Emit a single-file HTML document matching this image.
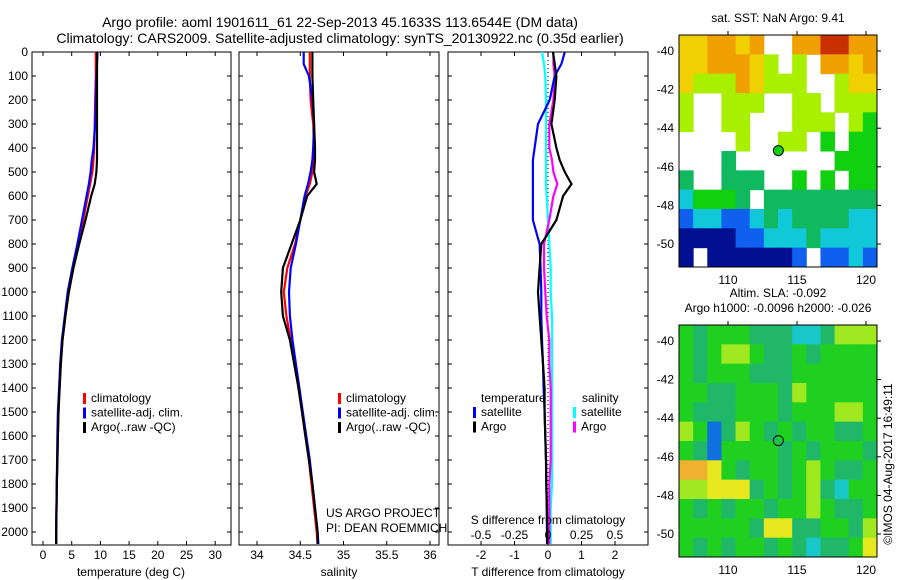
<!DOCTYPE html>
<html><head><meta charset="utf-8"><style>
body{margin:0;background:#fff;}
svg{display:block;font-family:"Liberation Sans",sans-serif;}
</style></head><body>
<svg id="c" width="900" height="580" viewBox="0 0 900 580"></svg>
<script>
// ---- data ----
const depths=[0,50,100,200,300,400,450,500,550,600,700,800,900,1000,1100,1200,1300,1400,1500,1600,1700,1800,1900,2000,2050];
const tempClim=[9.2,9.2,9.2,9.1,9.0,8.9,8.8,8.6,8.2,7.8,7.0,6.2,5.3,4.5,3.9,3.4,3.1,2.9,2.7,2.6,2.5,2.4,2.35,2.3,2.3];
const tempSat=[9.5,9.4,9.3,9.2,9.1,8.8,8.5,8.3,8.0,7.6,6.8,6.0,5.1,4.3,3.8,3.3,3.0,2.8,2.6,2.5,2.45,2.4,2.35,2.3,2.3];
const tempArgo=[9.4,9.4,9.4,9.4,9.4,9.4,9.4,9.3,9.0,8.4,7.4,6.3,5.3,4.5,3.9,3.4,3.1,2.9,2.7,2.6,2.5,2.4,2.35,2.3,2.3];
const salClim=[34.61,34.61,34.61,34.62,34.65,34.66,34.66,34.64,34.61,34.56,34.50,34.44,34.35,34.31,34.34,34.39,34.44,34.48,34.52,34.56,34.60,34.63,34.66,34.69,34.70];
const salSat=[34.54,34.54,34.60,34.64,34.66,34.65,34.64,34.62,34.59,34.55,34.50,34.45,34.39,34.37,34.38,34.41,34.45,34.49,34.53,34.57,34.61,34.64,34.67,34.70,34.71];
const salArgo=[34.64,34.64,34.64,34.65,34.66,34.67,34.67,34.66,34.69,34.58,34.50,34.40,34.30,34.28,34.30,34.38,34.43,34.48,34.52,34.56,34.60,34.64,34.67,34.70,34.70];
const dTsat=[0.5,0.4,0.2,0.05,-0.3,-0.4,-0.45,-0.45,-0.45,-0.45,-0.45,-0.25,-0.22,-0.2,-0.2,-0.18,-0.15,-0.13,-0.1,-0.08,-0.06,-0.05,-0.04,-0.03,-0.03];
const dTargo=[0.15,0.2,0.25,0.2,0.1,0.25,0.35,0.5,0.7,0.45,0.25,-0.2,-0.25,-0.3,-0.25,-0.2,-0.15,-0.1,-0.1,-0.08,-0.06,-0.05,-0.03,-0.02,-0.02];
const dSsat=[-0.045,-0.03,-0.02,-0.015,-0.015,-0.015,-0.015,-0.015,-0.015,-0.01,-0.0,0.01,0.02,0.02,0.03,0.03,0.03,0.03,0.03,0.03,0.03,0.03,0.02,0.02,0.02];
const dSargo=[0.04,0.04,0.05,0.04,0.01,0.01,0.03,0.04,0.07,0.04,0.01,-0.03,-0.03,-0.02,-0.01,0.01,0.01,0.02,0.02,0.02,0.02,0.01,0.01,0.01,0.01];
const depthTicks=[0,100,200,300,400,500,600,700,800,900,1000,1100,1200,1300,1400,1500,1600,1700,1800,1900,2000];
const tTicks=[0,5,10,15,20,25,30];
const sTicks=[34,34.5,35,35.5,36];
const dtTicks=[-2,-1,0,1,2];
const dsTicks=[-0.5,-0.25,0,0.25,0.5];
const dsLabels=["-0.5","-0.25","0","0.25","0.5"];
const lonTicks=[110,115,120];
const latTicks=[-40,-42,-44,-46,-48,-50];
const sstGrid=["yyooyo..oorroo","yyoooyl.l.ooyo","yllloylll..lyy","l..lll..ll.lll","l..ll...lll.lg","....l..ll.g.gg","...G.......ggg","G..GGG..g.g.gg","cgggG.GGGGGGGG","bccbbcGcGGGGcc","nnnnbbcccGcccc","n.nnnnnnb.bbcb"];
const slaGrid=["gtgggtttcctlll","gtgllgttgtgggg","gtgggtttgggggg","ggttgggtlggggg","gtttgggtgggllg","lgbtlgtgtggttg","gtbggggtgtgggt","ooygtggtglgttg","llyyytgtgltcgg","gtgtggtgglgttg","gggggtyyttggtl","gtgtggtgtcttgy"];
const argoLon=113.65, argoLat=-45.16;

const NS="http://www.w3.org/2000/svg";
const svg=document.getElementById('c');
function mk(tag,attrs,parent){const e=document.createElementNS(NS,tag);for(const k in attrs)e.setAttribute(k,attrs[k]);(parent||svg).appendChild(e);return e;}
function txt(x,y,s,anchor,size,parent){const t=mk('text',{x:x,y:y,'text-anchor':anchor||'middle','font-size':size||12,fill:'#000'},parent);t.textContent=s;return t;}

const plotTop=52,plotBot=545;
const yD=d=>plotTop+d*0.24;
const P1={x0:32,x1:231,f:v=>43+v*5.74};
const P2={x0:239,x1:439,f:v=>257+(v-34)*86.5};
const P3={x0:448,x1:648,f:v=>548+v*33.5,fs:v=>548+v*134};

let tl=txt(340,27,"Argo profile: aoml 1901611_61 22-Sep-2013 45.1633S 113.6544E (DM data)",'middle',14);


tl=txt(340,43,"Climatology: CARS2009. Satellite-adjusted climatology: synTS_20130922.nc (0.35d earlier)",'middle',14);



function panel(P,name){
  const g=mk('g',{});
  
  
  mk('rect',{x:P.x0,y:plotTop,width:P.x1-P.x0,height:plotBot-plotTop,fill:'none',stroke:'#000','stroke-width':1},g);
  depthTicks.forEach(d=>{const y=yD(d);mk('line',{x1:P.x0,x2:P.x0+4,y1:y,y2:y,stroke:'#000'},g);mk('line',{x1:P.x1-4,x2:P.x1,y1:y,y2:y,stroke:'#000'},g);});
  return g;
}
function line(vals,f,color,g,name){
  const pts=vals.map((v,i)=>f(v).toFixed(1)+','+yD(depths[i]).toFixed(1)).join(' ');
  const p=mk('polyline',{points:pts,fill:'none',stroke:color,'stroke-width':2.2},g);
  
  
}
function xticks(ticks,f,g,ly){
  ticks.forEach(v=>{const x=f(v);mk('line',{x1:x,x2:x,y1:plotTop,y2:plotTop+4,stroke:'#000'},g);mk('line',{x1:x,x2:x,y1:plotBot-4,y2:plotBot,stroke:'#000'},g);txt(x,ly,String(v),'middle',12,g);});
}
function legend(g,x,y,items){
  items.forEach((it,i)=>{mk('rect',{x:x,y:y+i*14.5-9,width:3,height:11,fill:it[1]},g);txt(x+8,y+i*14.5,it[0],'start',12,g);});
}

const yl=mk('g',{});


depthTicks.forEach(d=>txt(28,yD(d)+4,String(d),'end',12,yl));

const g1=panel(P1,'temperature-panel');
line(tempClim,P1.f,'#f00',g1,'temp-climatology-line');
line(tempSat,P1.f,'#00f',g1,'temp-satellite-line');
line(tempArgo,P1.f,'#000',g1,'temp-argo-line');
xticks(tTicks,P1.f,g1,559);
txt(131,576,"temperature (deg C)",'middle',12,g1);
legend(g1,83,402,[["climatology","#f00"],["satellite-adj. clim.","#00f"],["Argo(..raw -QC)","#000"]]);

const g2=panel(P2,'salinity-panel');
line(salClim,P2.f,'#f00',g2,'sal-climatology-line');
line(salSat,P2.f,'#00f',g2,'sal-satellite-line');
line(salArgo,P2.f,'#000',g2,'sal-argo-line');
xticks(sTicks,P2.f,g2,559);
txt(339,576,"salinity",'middle',12,g2);
legend(g2,338,402,[["climatology","#f00"],["satellite-adj. clim.","#00f"],["Argo(..raw -QC)","#000"]]);
txt(326,517,"US ARGO PROJECT",'start',12,g2);
txt(326,532,"PI: DEAN ROEMMICH",'start',12,g2);

const g3=panel(P3,'difference-panel');
mk('line',{x1:548,x2:548,y1:plotTop,y2:plotBot,stroke:'#000','stroke-dasharray':'1,3'},g3);
line(dSsat,P3.fs,'#0ff',g3,'sal-diff-satellite-line');
line(dSargo,P3.fs,'#f0f',g3,'sal-diff-argo-line');
line(dTsat,P3.f,'#00f',g3,'temp-diff-satellite-line');
line(dTargo,P3.f,'#000',g3,'temp-diff-argo-line');
xticks(dtTicks,P3.f,g3,559);
dsTicks.forEach((v,i)=>txt(P3.fs(v),539,dsLabels[i],'middle',12,g3));
txt(548,524,"S difference from climatology",'middle',12,g3);
txt(548,576,"T difference from climatology",'middle',12,g3);
txt(481,402,"temperature",'start',12,g3);
txt(582,402,"salinity",'start',12,g3);
legend(g3,473,416,[["satellite","#00f"],["Argo","#000"]]);
legend(g3,573,416,[["satellite","#0ff"],["Argo","#f0f"]]);

const colors={r:'#c83000',o:'#f0a000',y:'#f0d000',l:'#a8f000',g:'#10d010',G:'#10b860',c:'#10c8d8',b:'#1060f0',n:'#001090',t:'#18b870'};
const slaColors={g:'#20d020',t:'#20b868',l:'#a0e820',y:'#e8e820',o:'#f0b030',c:'#18c8c8',b:'#1070e0'};
function map(y0,y1,lat40y,grid,cmap,name,titleLines,fillMarker){
  const g=mk('g',{});
  
  
  const x0=679,x1=877;
  const fx=lon=>728+(lon-110)*13.8;
  const fy=lat=>lat40y+(-40-lat)*19.3;
  const rows=grid.length,cols=grid[0].length,cw=(x1-x0)/cols,ch=(y1-y0)/rows;
  grid.forEach((row,r)=>{for(let c=0;c<cols;c++){const k=row[c];if(cmap[k]){const cell=mk('rect',{x:x0+c*cw,y:y0+r*ch,width:cw+0.5,height:ch+0.5,fill:cmap[k]},g);
    
    }}});
  mk('rect',{x:x0,y:y0,width:x1-x0,height:y1-y0,fill:'none',stroke:'#000'},g);
  lonTicks.forEach(v=>{const x=fx(v);mk('line',{x1:x,x2:x,y1:y0-4,y2:y0,stroke:'#000'},g);txt(x,y1+17,String(v),'middle',12,g);});
  latTicks.forEach(v=>{const y=fy(v);mk('line',{x1:x1,x2:x1+4,y1:y,y2:y,stroke:'#000'},g);txt(674,y+4,String(v),'end',12,g);});
  const m=mk('circle',{cx:fx(argoLon),cy:fy(argoLat),r:5,fill:fillMarker,stroke:'#000','stroke-width':1},g);
  
  
  titleLines.forEach((s,i)=>txt(778,y0-13-(titleLines.length-1-i)*15,s,'middle',12,g));
}
map(35,267,51,sstGrid,colors,'sst-map',["sat. SST: NaN Argo: 9.41"],'#10d010');
map(325,557,341,slaGrid,slaColors,'sla-map',["Altim. SLA: -0.092","Argo h1000: -0.0096 h2000: -0.026"],'none');

const cr=txt(0,0,"©IMOS 04-Aug-2017 16:49:11",'middle',12);
cr.setAttribute('transform','translate(892,464) rotate(-90)');


</script>
</body></html>
